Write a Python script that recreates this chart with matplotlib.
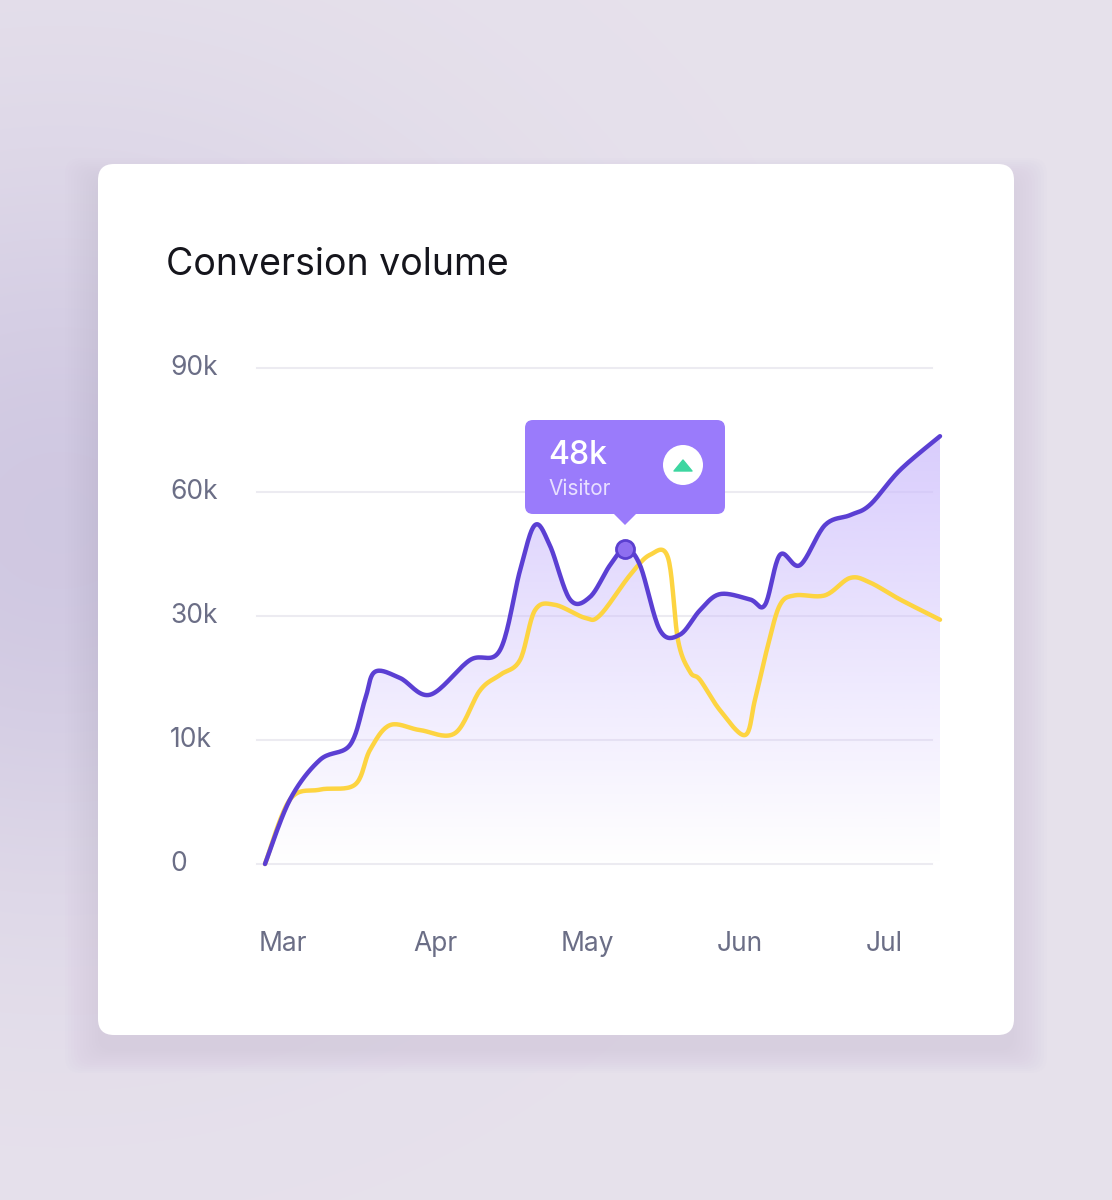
import numpy as np
import matplotlib
matplotlib.use("Agg")
import matplotlib.pyplot as plt
from matplotlib.patches import FancyBboxPatch, Polygon, Circle
from matplotlib.path import Path

plt.rcParams['font.family'] = ['Inter', 'DejaVu Sans']

months = ["Mar", "Apr", "May", "Jun", "Jul"]
y_ticks = [0, 10, 30, 60, 90]          # k, evenly spaced on the axis
y_labels = ["0", "10k", "30k", "60k", "90k"]

# x in month units (0 = Mar), values in k
px_p = [265,290,320,350,365,375,400,430,470,500,520,535,550,570,590,610,625,640,660,680,700,720,750,765,780,800,825,850,870,900,940]
purple = [0,5.2,8.4,9.6,16.5,21,20,17.3,22.9,24.5,41,52,47,34,34.6,42.3,46.2,42.3,27.7,27,31.4,35.3,34,32.7,44.8,42.3,52,54.4,56.9,65.3,73.5]
px_y = [265,290,320,355,370,390,420,455,480,500,520,535,555,585,600,630,650,668,678,690,700,720,745,755,768,780,795,825,850,870,900,940]
yellow = [0,5.2,6.0,6.4,9.2,12.4,11.6,11.1,18,20.5,22.9,31.4,32.7,29.7,30.2,39.9,44.8,44.1,26.1,21,19.7,14.8,10.8,16.5,25.3,32.7,35,35,39.2,38.1,34,29.4]
x_p = [(p-283)/152.25 for p in px_p]
x_y = [(p-283)/152.25 for p in px_y]

def lev(v):
    return np.interp(v, y_ticks, range(len(y_ticks)))

def smooth(x, y, n=20):
    x = np.asarray(x, float); y = np.asarray(y, float)
    P = np.column_stack([x, y])
    P = np.vstack([P[0], P, P[-1]])
    out = []
    for i in range(1, len(P)-2):
        p0, p1, p2, p3 = P[i-1], P[i], P[i+1], P[i+2]
        for t in np.linspace(0, 1, n, endpoint=False):
            t2, t3 = t*t, t*t*t
            out.append(0.5*((2*p1) + (-p0+p2)*t + (2*p0-5*p1+4*p2-p3)*t2 + (-p0+3*p1-3*p2+p3)*t3))
    out.append(P[-2])
    out = np.array(out)
    return out[:, 0], out[:, 1]

W, H = 1112, 1200
fig = plt.figure(figsize=(W/100, H/100), dpi=100)
# background
bg = fig.add_axes([0, 0, 1, 1]); bg.set_axis_off()
yy, xx = np.mgrid[0:H, 0:W]
base = np.array([0.905, 0.885, 0.925])
glow = np.exp(-(((xx-60)/420.0)**2 + ((yy-520)/380.0)**2))
img = base[None, None, :] - glow[..., None]*np.array([0.09, 0.10, 0.04])
bg.imshow(img, extent=[0, W, H, 0], aspect='auto')
bg.set_xlim(0, W); bg.set_ylim(H, 0)
# card shadow + card
for k in range(12):
    bg.add_patch(FancyBboxPatch((98-k*3, 180-k*2), 916+k*6, 871+k*4,
                 boxstyle="round,pad=0,rounding_size=16", fc=(0.55, 0.5, 0.62), ec='none', alpha=0.012))
bg.add_patch(FancyBboxPatch((98, 164), 916, 871, boxstyle="round,pad=0,rounding_size=16", fc='white', ec='none'))
bg.text(166, 265, "Conversion volume", fontsize=27, color='#15151c', va='center', ha='left')

ax = fig.add_axes([255/W, 1-880/H, 690/W, 530/H])
ax.set_axis_off()
ax.set_xlim(-28/152.25, 662/152.25)
ax.set_ylim(-16/124, 514/124)

for i, lab in enumerate(y_labels):
    ax.plot([(257-283)/152.25, (932-283)/152.25], [i, i], color='#ecebf1', lw=1.5, zorder=1)
    ax.text((170-283)/152.25, i, lab, fontsize=19, color='#6b6e86', va='center', ha='left', clip_on=False)
for i, m in enumerate(months):
    ax.text(i if i < 4 else 3.95, -80/124, m, fontsize=19, color='#6b6e86', va='center', ha='center', clip_on=False)

sx, sy = smooth(x_p, lev(purple))
yx, yy2 = smooth(x_y, lev(yellow))

# gradient fill under purple
grad = np.linspace(0, 1, 256)[:, None]
cols = np.zeros((256, 1, 4))
cols[..., 0] = 0.80; cols[..., 1] = 0.74; cols[..., 2] = 0.99
cols[..., 3] = grad*0.75
im = ax.imshow(cols, extent=[sx[0], sx[-1], 0, sy.max()], origin='lower', aspect='auto', zorder=2)
poly = Polygon(np.column_stack([np.r_[sx, sx[-1], sx[0]], np.r_[sy, 0, 0]]), closed=True, transform=ax.transData)
im.set_clip_path(poly)

ax.plot(yx, yy2, color='#fdd441', lw=3.2, zorder=3, solid_capstyle='round')
ax.plot(sx, sy, color='#5b3fd3', lw=3.2, zorder=4, solid_capstyle='round')

# marker
mx = x_p[16]
ax.plot([mx], [lev(purple[16])], 'o', ms=13, mfc='#8f6ff0', mec='#5b3fd0', mew=2, zorder=6)

# tooltip in figure pixel coords
bg2 = fig.add_axes([0, 0, 1, 1]); bg2.set_axis_off(); bg2.set_xlim(0, W); bg2.set_ylim(H, 0)
bg2.patch.set_alpha(0)
bg2.add_patch(FancyBboxPatch((525, 420), 200, 94, boxstyle="round,pad=0,rounding_size=8", fc='#9a7bfb', ec='none'))
bg2.add_patch(Polygon([(613, 513), (637, 513), (625, 525)], closed=True, fc='#9a7bfb', ec='none'))
bg2.text(548, 456, "48k", fontsize=23, color='white', va='center', ha='left', fontweight='medium')
bg2.text(548, 489, "Visitor", fontsize=15, color='#e8e0ff', va='center', ha='left')
bg2.add_patch(Circle((683, 465), 20, fc='white', ec='none'))
bg2.add_patch(Polygon([(674, 471), (692, 471), (683, 460)], closed=True, fc='#3dd6a0', ec='#3dd6a0', lw=1, joinstyle='round'))

fig.savefig("out.png", dpi=100)
